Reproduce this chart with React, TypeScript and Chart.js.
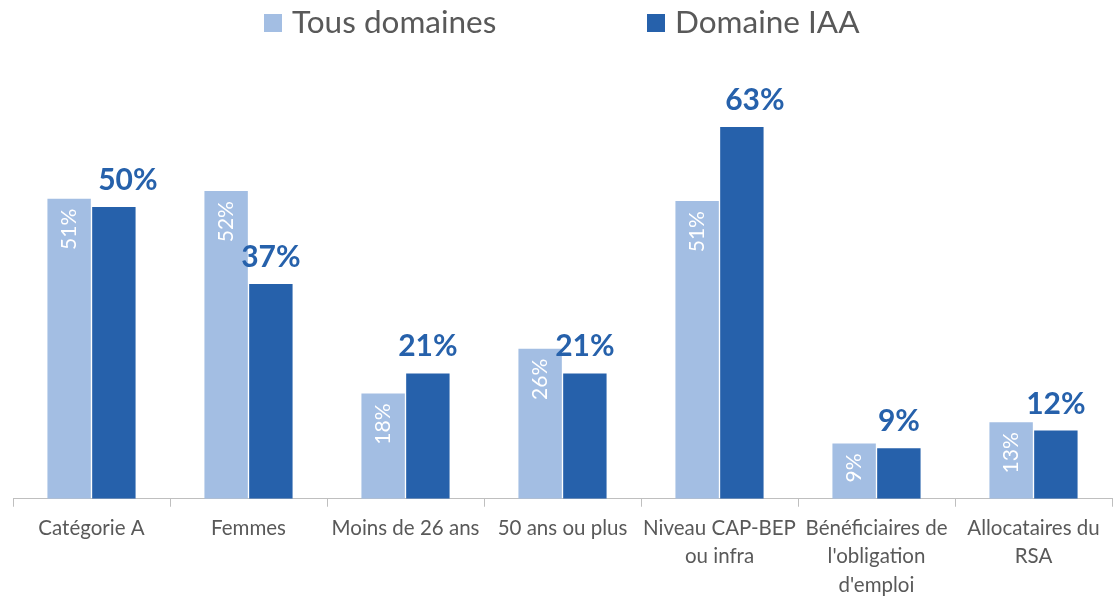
import React, { useEffect, useRef } from "react";
import { Chart, registerables } from "chart.js";

Chart.register(...registerables);

const categories: (string | string[])[] = [
  "Catégorie A",
  "Femmes",
  "Moins de 26 ans",
  "50 ans ou plus",
  ["Niveau CAP-BEP", "ou infra"],
  ["Bénéficiaires de", "l'obligation", "d'emploi"],
  ["Allocataires du", "RSA"],
];
const seriesNames = ["Tous domaines", "Domaine IAA"];
const tousDomaines = [51.0, 52.3, 17.9, 25.5, 50.6, 9.4, 13.0];
const domaineIAA = [49.6, 36.5, 21.3, 21.3, 63.2, 8.6, 11.6];
const darkLabelShiftX = [14, 0, 0, 0, 13, 0, 0];

const LIGHT = "#a3bee3";
const DARK = "#2661ab";
const TEXT = "#595959";
const FONT = "Lato, 'Open Sans', sans-serif";

const labelsPlugin = {
  id: "barLabels",
  afterDatasetsDraw(chart: any) {
    const ctx = chart.ctx;
    ctx.save();
    chart.data.datasets.forEach((ds: any, di: number) => {
      const meta = chart.getDatasetMeta(di);
      meta.data.forEach((bar: any, i: number) => {
        const txt = Math.round(ds.data[i]) + "%";
        if (di === 0) {
          ctx.save();
          ctx.translate(bar.x, bar.y + 10);
          ctx.rotate(-Math.PI / 2);
          ctx.font = `21px ${FONT}`;
          ctx.fillStyle = "#ffffff";
          ctx.textAlign = "right";
          ctx.textBaseline = "middle";
          ctx.fillText(txt, 0, 0);
          ctx.restore();
        } else {
          ctx.font = `bold 30px ${FONT}`;
          ctx.fillStyle = DARK;
          ctx.textAlign = "center";
          ctx.textBaseline = "alphabetic";
          ctx.fillText(txt, bar.x + darkLabelShiftX[i], bar.y - 17);
        }
      });
    });
    ctx.restore();
  },
};

const legendPlugin = {
  id: "customLegend",
  afterDraw(chart: any) {
    const ctx = chart.ctx;
    ctx.save();
    const boxX = [264, 647];
    chart.data.datasets.forEach((ds: any, di: number) => {
      ctx.fillStyle = ds.backgroundColor;
      ctx.fillRect(boxX[di], 14, 18, 18);
      ctx.font = `31.5px ${FONT}`;
      ctx.fillStyle = TEXT;
      ctx.textAlign = "left";
      ctx.textBaseline = "alphabetic";
      ctx.fillText(ds.label, boxX[di] + 28, 33);
    });
    ctx.restore();
  },
};

export default function App() {
  const ref = useRef<HTMLCanvasElement>(null);
  useEffect(() => {
    if (!ref.current) return;
    const chart = new Chart(ref.current, {
      type: "bar",
      data: {
        labels: categories,
        datasets: [
          { label: seriesNames[0], data: tousDomaines, backgroundColor: LIGHT, borderWidth: 0 },
          { label: seriesNames[1], data: domaineIAA, backgroundColor: DARK, borderWidth: 0 },
        ],
      },
      options: {
        animation: false,
        responsive: false,
        maintainAspectRatio: false,
        layout: { padding: { top: 87, left: 13, right: 7, bottom: 0 } },
        datasets: { bar: { categoryPercentage: 0.57, barPercentage: 0.97 } },
        plugins: { legend: { display: false }, tooltip: { enabled: false } },
        scales: {
          x: {
            grid: {
              display: true,
              drawOnChartArea: false,
              drawTicks: true,
              tickLength: 8,
              color: "#bfbfbf",
              offset: true,
            },
            border: { display: true, color: "#bfbfbf", width: 1 },
            ticks: {
              color: TEXT,
              font: { family: FONT, size: 20.5, lineHeight: 1.37 },
              padding: 8,
              maxRotation: 0,
              autoSkip: false,
            },
          },
          y: { display: false, min: 0, max: 70 },
        },
      },
      plugins: [labelsPlugin, legendPlugin],
    });
    return () => chart.destroy();
  }, []);
  return (
    <div style={{ position: "absolute", left: 0, top: 0, width: 1119, height: 596, overflow: "hidden", background: "#fff" }}>
      <canvas ref={ref} width={1119} height={607} style={{ display: "block" }} />
    </div>
  );
}
